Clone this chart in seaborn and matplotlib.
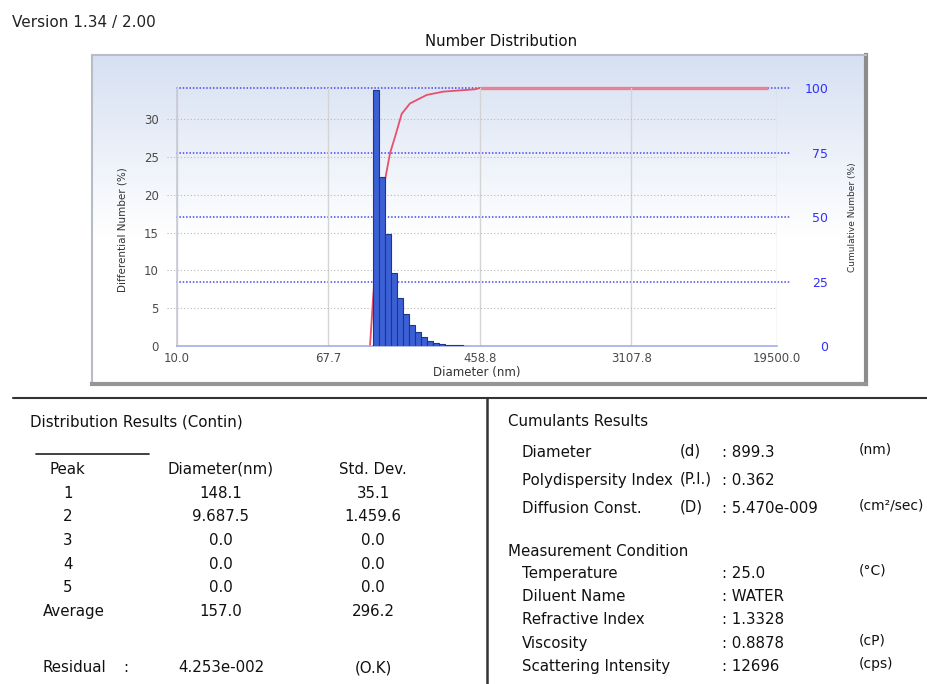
import numpy as np
import matplotlib
matplotlib.use("Agg")
import matplotlib.pyplot as plt
import seaborn as sns
from matplotlib.lines import Line2D
from matplotlib.ticker import NullLocator

# --- data ---
bin_diam = [124.0, 133.7, 144.2, 155.6, 167.9, 181.1, 195.3, 210.7,
            227.3, 245.2, 264.5, 285.3, 307.8, 332.0, 358.1, 386.3]
diff_number = [33.8, 22.4, 14.8, 9.7, 6.3, 4.2, 2.8, 1.8,
               1.15, 0.7, 0.45, 0.28, 0.18, 0.12, 0.08, 0.05]

cum_diam = [114.5, 119.4, 128.2, 138.4, 147.4, 157.0, 170.9, 189.7,
            234.3, 289.0, 431.2, 458.8]
cum_number = [0, 20, 45, 64.3, 74.7, 81, 90, 94, 97.3, 98.6, 99.5, 100]
plateau_diam = [458.8, 17500]
plateau_number = [100, 100]

x_ticks = [10.0, 67.7, 458.8, 3107.8, 19500.0]
left_ticks = [0, 5, 10, 15, 20, 25, 30]
right_ticks = [0, 25, 50, 75, 100]

peak_labels = ["1", "2", "3", "4", "5"]
peak_diam = ["148.1", "9.687.5", "0.0", "0.0", "0.0"]
peak_std = ["35.1", "1.459.6", "0.0", "0.0", "0.0"]
avg_diam, avg_std = "157.0", "296.2"
residual, residual_ok = "4.253e-002", "(O.K)"

cumulant_names = ["Diameter", "Polydispersity Index", "Diffusion Const."]
cumulant_syms = ["(d)", "(P.I.)", "(D)"]
cumulant_vals = [": 899.3", ": 0.362", ": 5.470e-009"]
cumulant_units = ["(nm)", "", "(cm\u00b2/sec)"]

cond_names = ["Temperature", "Diluent Name", "Refractive Index", "Viscosity",
              "Scattering Intensity"]
cond_vals = [": 25.0", ": WATER", ": 1.3328", ": 0.8878", ": 12696"]
cond_units = ["(\u00b0C)", "", "", "(cP)", "(cps)"]

W, H = 928, 684
TXT = "#111111"


def px(x, y):
    return x / W, 1 - y / H


sns.set_theme(style="white")
plt.rcParams["font.family"] = ["DejaVu Sans"]

fig = plt.figure(figsize=(W / 100, H / 100), dpi=100)
fig.patch.set_facecolor("white")

# chart panel with gradient
pl, pb = px(92.5, 384)
bg = fig.add_axes([pl, pb, (866.5 - 92.5) / W, (384 - 55) / H], zorder=-5)
grad = np.clip(np.linspace(0, 1.8, 200), 0, 1)[:, None]
top_c = np.array([0.84, 0.88, 0.95])
img = top_c[None, None, :] * (1 - grad[..., None]) + np.ones(3)[None, None, :] * grad[..., None]
bg.imshow(img, aspect="auto", extent=[0, 1, 0, 1], origin="upper")
bg.set_xticks([])
bg.set_yticks([])
for side, col, lw in [("left", "#b9bcc4", 1.5), ("top", "#b9bcc4", 1.5),
                      ("right", "#8c8c8c", 3), ("bottom", "#959595", 3)]:
    bg.spines[side].set_color(col)
    bg.spines[side].set_linewidth(lw)
    bg.spines[side].set_visible(True)

# main plotting area
al, ab = px(177, 346)
ax = fig.add_axes([al, ab, 599.7 / W, 258 / H])
ax2 = ax.twinx()
ax.set_zorder(ax2.get_zorder() + 1)
ax.patch.set_visible(False)
ax2.patch.set_visible(False)

bw = np.log10(bin_diam[1] / bin_diam[0])
sns.histplot(x=bin_diam, weights=diff_number, ax=ax, log_scale=True,
             binwidth=bw, binrange=(np.log10(bin_diam[0]) - bw / 2,
                                    np.log10(bin_diam[-1]) + bw / 2),
             color="#3b60d4", edgecolor="#1d3490", linewidth=0.8, alpha=1,
             zorder=3)

sns.lineplot(x=cum_diam, y=cum_number, ax=ax2, color="#e8506a", lw=1.3,
             zorder=5, clip_on=False)
sns.lineplot(x=plateau_diam, y=plateau_number, ax=ax2, color="#ea8192",
             linewidth=2.4, solid_capstyle="butt", zorder=6, clip_on=False)

ax.set_xscale("log")
ax.set_xlim(10, 19500)
ax.set_ylim(0, 34.1)
ax2.set_ylim(0, 100)
ax.xaxis.set_minor_locator(NullLocator())
ax.set_xticks(x_ticks)
ax.set_xticklabels([f"{v:.1f}" for v in x_ticks])
ax.set_yticks(left_ticks)
ax.set_yticklabels([str(v) for v in left_ticks])
ax2.set_yticks(right_ticks)
ax2.set_yticklabels([str(v) for v in right_ticks])

ax.grid(False)
ax2.grid(False)
for v in x_ticks:
    ax.axvline(v, color="#d4d4d4", lw=1, zorder=0.5)
for v in left_ticks[1:]:
    ax.axhline(v, xmin=-0.017, xmax=1, clip_on=False, color="#b8b8b8",
               ls=(0, (1, 2)), lw=0.8, zorder=0.6)
for v in right_ticks[1:]:
    ax2.axhline(v, xmin=-0.002, xmax=1.022, clip_on=False, color="#4848f0",
                ls=(0, (1, 1.2)), lw=1.1, zorder=1)

for a in (ax, ax2):
    for s in a.spines.values():
        s.set_visible(False)
ax.spines["bottom"].set_visible(True)
ax.spines["bottom"].set_color("#a3aee8")
ax.spines["bottom"].set_linewidth(1.2)
ax.spines["left"].set_visible(True)
ax.spines["left"].set_color("#c6cad6")
ax.spines["left"].set_linewidth(1.2)

ax.tick_params(axis="both", length=0, labelsize=8.5, labelcolor="#4a4a4a")
ax.tick_params(axis="y", pad=13)
ax.tick_params(axis="x", pad=4)
ax2.tick_params(axis="y", length=0, labelsize=9, labelcolor="#3030ff", pad=37)
for t in ax2.get_yticklabels():
    t.set_horizontalalignment("right")

ax.set_xlabel("Diameter (nm)", fontsize=8.5, color="#333333", labelpad=1)
ax.set_ylabel("Differential Number (%)", fontsize=7.5, color="#333333")
ax.yaxis.set_label_coords(-0.083, 0.45)
ax2.set_ylabel("Cumulative Number (%)", fontsize=6.5, color="#333333", rotation=90)
ax2.yaxis.set_label_coords(1.119, 0.50)

# headings
fig.text(*px(12, 22), "Version 1.34 / 2.00", fontsize=11, color="#222222",
         va="center", ha="left")
fig.text(*px(501, 42), "Number Distribution", fontsize=10.7, color="#111111",
         va="center", ha="center")

# table frame lines
fig.add_artist(Line2D([13 / W, 1], [1 - 398 / H] * 2, color="#333333", lw=1.5))
fig.add_artist(Line2D([487 / W] * 2, [1 - 398 / H, 0], color="#333333", lw=1.8))
fig.add_artist(Line2D([36 / W, 149 / W], [1 - 454 / H] * 2, color="#333333", lw=1.3))

fs = 10.8
ufs = 10
# left table: distribution results
fig.text(*px(30, 422), "Distribution Results (Contin)", fontsize=fs, color=TXT, va="center")
fig.text(*px(50, 469), "Peak", fontsize=fs, color=TXT, va="center")
fig.text(*px(221, 469), "Diameter(nm)", fontsize=fs, color=TXT, va="center", ha="center")
fig.text(*px(373, 469), "Std. Dev.", fontsize=fs, color=TXT, va="center", ha="center")
row0, dy = 493.3, 23.6
for i, (lab, d, s) in enumerate(zip(peak_labels, peak_diam, peak_std)):
    y = row0 + i * dy
    fig.text(*px(68, y), lab, fontsize=fs, color=TXT, va="center", ha="center")
    fig.text(*px(221, y), d, fontsize=fs, color=TXT, va="center", ha="center")
    fig.text(*px(373, y), s, fontsize=fs, color=TXT, va="center", ha="center")
y = row0 + len(peak_labels) * dy
fig.text(*px(43, y), "Average", fontsize=fs, color=TXT, va="center")
fig.text(*px(221, y), avg_diam, fontsize=fs, color=TXT, va="center", ha="center")
fig.text(*px(373, y), avg_std, fontsize=fs, color=TXT, va="center", ha="center")
fig.text(*px(43, 668), "Residual", fontsize=fs, color=TXT, va="center")
fig.text(*px(126, 668), ":", fontsize=fs, color=TXT, va="center", ha="center")
fig.text(*px(221, 668), residual, fontsize=fs, color=TXT, va="center", ha="center")
fig.text(*px(373, 668), residual_ok, fontsize=fs, color=TXT, va="center", ha="center")

# right table: cumulants and measurement condition
fig.text(*px(508, 422), "Cumulants Results", fontsize=fs, color=TXT, va="center")
for i, (n, s, v, u) in enumerate(zip(cumulant_names, cumulant_syms,
                                     cumulant_vals, cumulant_units)):
    y = 452.3 + i * 28
    fig.text(*px(522, y), n, fontsize=fs, color=TXT, va="center")
    fig.text(*px(680, y - 1.5), s, fontsize=fs, color=TXT, va="center")
    fig.text(*px(722, y), v, fontsize=fs, color=TXT, va="center")
    if u:
        fig.text(*px(859, y - 2.5), u, fontsize=ufs, color=TXT, va="center")

fig.text(*px(508, 551), "Measurement Condition", fontsize=fs, color=TXT, va="center")
for i, (n, v, u) in enumerate(zip(cond_names, cond_vals, cond_units)):
    y = 573.3 + i * 23.3
    fig.text(*px(522, y), n, fontsize=fs, color=TXT, va="center")
    fig.text(*px(722, y), v, fontsize=fs, color=TXT, va="center")
    if u:
        fig.text(*px(859, y - 2.5), u, fontsize=ufs, color=TXT, va="center")

fig.savefig("out.png", dpi=100)
